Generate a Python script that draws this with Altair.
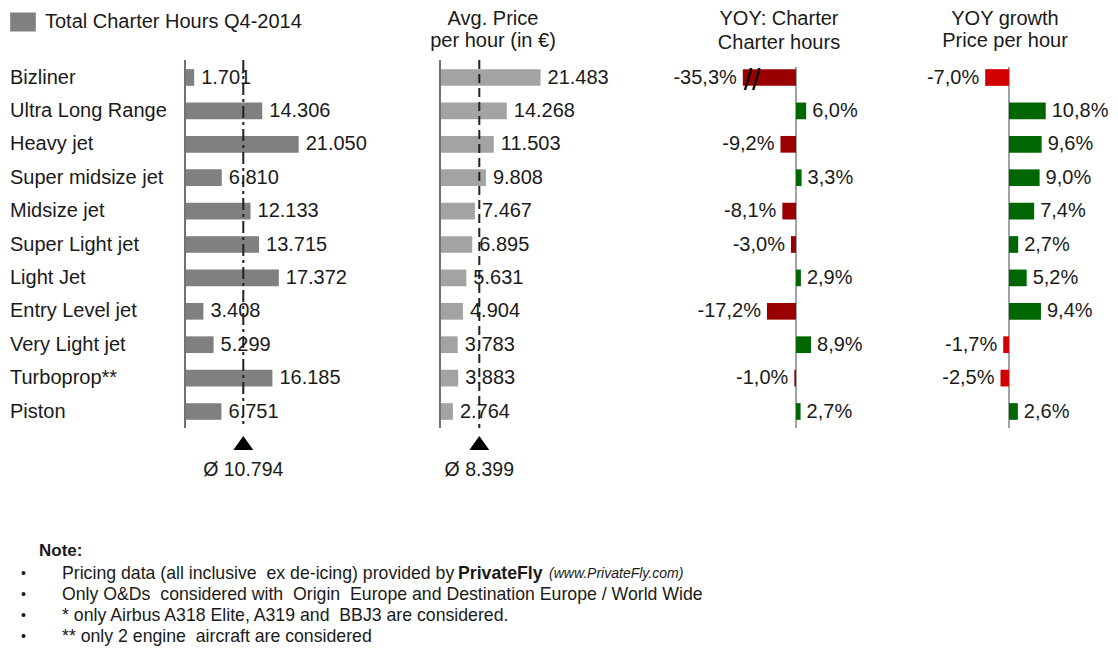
import altair as alt
import pandas as pd

# ---------------- data ----------------
categories = ["Bizliner", "Ultra Long Range", "Heavy jet", "Super midsize jet", "Midsize jet",
              "Super Light jet", "Light Jet", "Entry Level jet", "Very Light jet", "Turboprop**", "Piston"]
charter_hours = [1701, 14306, 21050, 6810, 12133, 13715, 17372, 3408, 5299, 16185, 6751]
price_per_hour = [21483, 14268, 11503, 9808, 7467, 6895, 5631, 4904, 3783, 3883, 2764]
yoy_hours_pct = [-35.3, 6.0, -9.2, 3.3, -8.1, -3.0, 2.9, -17.2, 8.9, -1.0, 2.7]
yoy_price_pct = [-7.0, 10.8, 9.6, 9.0, 7.4, 2.7, 5.2, 9.4, -1.7, -2.5, 2.6]
avg_hours = 10794
avg_price = 8399
break_marker_value = -26.0

legend_label = "Total Charter Hours Q4-2014"
header_price = ["Avg. Price", "per hour (in €)"]
header_yoy_hours = ["YOY: Charter", "Charter hours"]
header_yoy_price = ["YOY growth", "Price per hour"]
note_title = "Note:"
note_lines = [
    "Pricing data (all inclusive\u00a0 ex de-icing) provided by",
    "Only O&Ds\u00a0 considered with\u00a0 Origin\u00a0 Europe and Destination Europe / World Wide",
    "* only Airbus A318 Elite, A319 and\u00a0 BBJ3 are considered.",
    "** only 2 engine\u00a0 aircraft are considered",
]
note_brand = "PrivateFly"
note_url = "(www.PrivateFly.com)"

# ---------------- styling ----------------
FONT = "Liberation Sans, Arial, sans-serif"
TXT = "#1a1a1a"
W, H = 1102, 640


def eu_int(v):
    return f"{v:,}".replace(",", ".")


def eu_pct(v):
    return f"{v:.1f}%".replace(".", ",")


df = pd.DataFrame({
    "cat": categories,
    "hours": charter_hours,
    "price": price_per_hour,
    "yh": yoy_hours_pct,
    "yp": yoy_price_pct,
})
df["series"] = legend_label
df["hours_lbl"] = [eu_int(v) for v in charter_hours]
df["price_lbl"] = [eu_int(v) for v in price_per_hour]
df["yh_lbl"] = [eu_pct(v) for v in yoy_hours_pct]
df["yp_lbl"] = [eu_pct(v) for v in yoy_price_pct]

base = alt.Chart(df)

y_enc = alt.Y("cat:N", sort=categories, axis=None,
              scale=alt.Scale(range=[52.8, 420.2], paddingInner=0.5, paddingOuter=0.25))


def xs(domain, rng, clamp=False):
    return alt.Scale(domain=domain, range=rng, nice=False, zero=False, clamp=clamp)


sc_h = xs([0, 20000], [177, 285])
sc_p = xs([0, 20000], [432, 525.6])
sc_yh = xs([-31.5, 20], [734.8, 821.8], clamp=True)
sc_yp = xs([-10, 15], [967, 1052])

layers = []

# category labels
layers.append(base.mark_text(align="left", baseline="middle", fontSize=20, font=FONT, color=TXT)
              .encode(x=alt.value(2), y=y_enc, text="cat:N"))

# ---------- panel 1: charter hours ----------
layers.append(base.mark_bar(strokeWidth=0).encode(
    x=alt.X("hours:Q", scale=sc_h, axis=None), y=y_enc,
    color=alt.Color("series:N", scale=alt.Scale(domain=[legend_label], range=["#808080"]),
                    legend=alt.Legend(title=None, orient="none", legendX=5, legendY=4,
                                      symbolType="M-1.35,-1H1.35V1H-1.35Z", symbolSize=361,
                                      symbolStrokeWidth=0, symbolOpacity=1,
                                      labelFontSize=20, labelFont=FONT, labelColor=TXT,
                                      labelOffset=12, labelLimit=0, padding=0))))
layers.append(base.mark_text(align="left", baseline="middle", dx=7, fontSize=20, font=FONT, color=TXT)
              .encode(x=alt.X("hours:Q", scale=sc_h, axis=None), y=y_enc, text="hours_lbl:N"))


def panel_refs(scale, avg, dash, rule_color):
    zero_df = pd.DataFrame({"v": [0]})
    mean_df = pd.DataFrame({"v": [avg], "lbl": ["Ø " + eu_int(avg)]})
    out = [
        alt.Chart(zero_df).mark_rule(color=rule_color, strokeWidth=2).encode(
            x=alt.X("v:Q", scale=scale, axis=None), y=alt.value(52), y2=alt.value(420)),
        alt.Chart(mean_df).mark_rule(color="#222222", strokeWidth=2, strokeDash=dash).encode(
            x=alt.X("v:Q", scale=scale, axis=None), y=alt.value(52), y2=alt.value(420)),
        alt.Chart(mean_df).mark_point(shape="M-1,0.7L1,0.7L0,-0.7Z", size=400, filled=True,
                                      color="black", opacity=1).encode(
            x=alt.X("v:Q", scale=scale, axis=None), y=alt.value(435)),
        alt.Chart(mean_df).mark_text(align="center", baseline="middle", fontSize=19.5, font=FONT,
                                     color=TXT).encode(
            x=alt.X("v:Q", scale=scale, axis=None), y=alt.value(462), text="lbl:N"),
    ]
    return out


layers += panel_refs(sc_h, avg_hours, [12, 4, 3, 4], "#6d737b")

# ---------- panel 2: price per hour ----------
layers.append(base.mark_bar(strokeWidth=0, color="#a3a3a3").encode(
    x=alt.X("price:Q", scale=sc_p, axis=None), y=y_enc))
layers.append(base.mark_text(align="left", baseline="middle", dx=7, fontSize=20, font=FONT, color=TXT)
              .encode(x=alt.X("price:Q", scale=sc_p, axis=None), y=y_enc, text="price_lbl:N"))
layers += panel_refs(sc_p, avg_price, [9, 5], "#6d737b")


# ---------- panels 3 & 4: YOY ----------
def yoy_panel(field, lbl, scale, neg_color, pos_color):
    out = [
        alt.Chart(pd.DataFrame({"v": [0]})).mark_rule(color="#9ea3a8", strokeWidth=2).encode(
            x=alt.X("v:Q", scale=scale, axis=None), y=alt.value(59), y2=alt.value(420)),
        base.mark_bar(strokeWidth=0).encode(
            x=alt.X(f"{field}:Q", scale=scale, axis=None), y=y_enc,
            color=alt.condition(f"datum.{field} < 0", alt.value(neg_color), alt.value(pos_color))),
        base.transform_filter(f"datum.{field} >= 0").mark_text(
            align="left", baseline="middle", dx=6, fontSize=20, font=FONT, color=TXT).encode(
            x=alt.X(f"{field}:Q", scale=scale, axis=None), y=y_enc, text=f"{lbl}:N"),
        base.transform_filter(f"datum.{field} < 0").mark_text(
            align="right", baseline="middle", dx=-6, fontSize=20, font=FONT, color=TXT).encode(
            x=alt.X(f"{field}:Q", scale=scale, axis=None), y=y_enc, text=f"{lbl}:N"),
    ]
    return out


layers += yoy_panel("yh", "yh_lbl", sc_yh, "#9b0000", "#006600")
layers += yoy_panel("yp", "yp_lbl", sc_yp, "#d10000", "#006600")

# break marker on truncated bar
brk_df = pd.DataFrame({"cat": [categories[0]], "v": [break_marker_value], "t": ["//"]})
layers.append(alt.Chart(brk_df).mark_text(align="center", baseline="middle", fontSize=30, dy=3,
                                          font=FONT, color="black").encode(
    x=alt.X("v:Q", scale=sc_yh, axis=None), y=y_enc, text="t:N"))


# ---------- headers and notes ----------
def free_text(txt, x, y, size=20, weight="normal", align="center", style="normal"):
    return alt.Chart(pd.DataFrame({"t": [txt]})).mark_text(
        align=align, baseline="middle", fontSize=size, fontWeight=weight, fontStyle=style,
        font=FONT, color=TXT).encode(x=alt.value(x), y=alt.value(y), text="t:N")


layers.append(free_text(header_price[0], 485, 11))
layers.append(free_text(header_price[1], 485, 33))
layers.append(free_text(header_yoy_hours[0], 771, 11))
layers.append(free_text(header_yoy_hours[1], 771, 35))
layers.append(free_text(header_yoy_price[0], 997, 11))
layers.append(free_text(header_yoy_price[1], 997, 33))

layers.append(free_text(note_title, 31, 543, size=17, weight="bold", align="left"))
note_y = [566, 587, 608, 629]
for yy, line in zip(note_y, note_lines):
    layers.append(free_text("•", 13, yy, size=14, align="left"))
    layers.append(free_text(line, 54, yy, size=17.7, align="left"))
layers.append(free_text(note_brand, 450, note_y[0], size=17.7, weight="bold", align="left"))
layers.append(free_text(note_url, 541, note_y[0], size=14, style="italic", align="left"))

chart = (alt.layer(*layers)
         .resolve_scale(x="independent")
         .properties(width=W, height=H, padding=0, background="white",
                     autosize=alt.AutoSizeParams(type="none"))
         .configure_view(stroke=None))

chart.save("out.html", embed_options={"renderer": "svg", "actions": False})
